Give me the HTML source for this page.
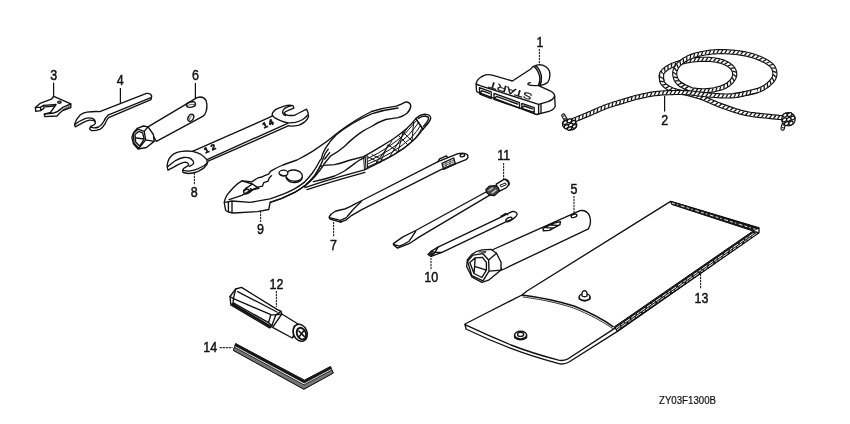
<!DOCTYPE html>
<html><head><meta charset="utf-8"><title>Tools</title>
<style>
html,body{margin:0;padding:0;background:#fff;}
body{width:850px;height:424px;overflow:hidden;}
svg{display:block;}
.l{fill:none;stroke:#111;stroke-width:1.35;stroke-linecap:round;stroke-linejoin:round;}
.f{fill:#fff;stroke:#111;stroke-width:1.35;stroke-linecap:round;stroke-linejoin:round;}
.t{fill:none;stroke:#222;stroke-width:0.7;stroke-linecap:round;stroke-linejoin:round;}
.d{fill:none;stroke:#222;stroke-width:1.1;stroke-dasharray:2.2 .8;}
.s{fill:none;stroke:#111;stroke-width:1.25;}
text{font-family:"Liberation Sans",sans-serif;fill:#111;}
svg{filter:grayscale(1) blur(.3px)}
.n{font-size:12.5px;text-anchor:middle;stroke:#111;stroke-width:0.42;}
</style></head>
<body>
<svg width="850" height="424" viewBox="0 0 850 424">
<rect width="850" height="424" fill="#fff"/>

<!-- LABELS -->
<g id="labels">
<text class="n" transform="translate(540,47.0) scale(1,1.1)">1</text>
<text class="n" transform="translate(664.7,124.8) scale(1,1.1)">2</text>
<text class="n" transform="translate(53.7,79.8) scale(1,1.1)">3</text>
<text class="n" transform="translate(120.3,85.4) scale(1,1.1)">4</text>
<text class="n" transform="translate(574,193.9) scale(1,1.1)">5</text>
<text class="n" transform="translate(195.5,80.4) scale(1,1.1)">6</text>
<text class="n" transform="translate(333.5,249.9) scale(1,1.1)">7</text>
<text class="n" transform="translate(194.3,197.4) scale(1,1.1)">8</text>
<text class="n" transform="translate(260.5,234.4) scale(1,1.1)">9</text>
<text class="n" transform="translate(431.3,282.4) scale(1,1.1)">10</text>
<text class="n" transform="translate(503.8,160.4) scale(1,1.1)">11</text>
<text class="n" transform="translate(276.5,289.0) scale(1,1.1)">12</text>
<text class="n" transform="translate(701.5,302.8) scale(1,1.1)">13</text>
<text class="n" transform="translate(210.2,352.4) scale(1,1.1)">14</text>
<text transform="translate(659,403.6) scale(1,1.06)" style="font-size:10.6px;stroke:#111;stroke-width:0.2" textLength="57" lengthAdjust="spacingAndGlyphs">ZY03F1300B</text>
</g>

<!-- LEADERS -->
<g id="leaders">
<path class="d" d="M539.4,49V64"/>
<path class="s" d="M664.6,96V111.6"/>
<path class="s" d="M53.6,82.6V96"/>
<path class="s" d="M120.4,88V103"/>
<path class="d" d="M574,196V213"/>
<path class="s" d="M195.4,83V98"/>
<path class="d" d="M333.6,222V237"/>
<path class="d" d="M194.4,173V185"/>
<path class="d" d="M260.6,211V222"/>
<path class="d" d="M431,258V270"/>
<path class="d" d="M503.6,163V179"/>
<path class="d" d="M276.4,291V307"/>
<path class="d" d="M700.6,274V289"/>
<path class="d" d="M219.6,347.6H232.4"/>
</g>

<!--O1-->
<!-- 3: clip -->
<g id="o3">
<path class="f" d="M53.800,96.300 L70.800,103.900 V107.600 L62.700,110.500 Q59,113.400 57,116 L44.800,116.600 L44.300,114.200 L50.500,112.400 L56.100,104.500 L43.900,105.300 L43.900,108.400 L40.600,110.600 L35.800,111.400 L35.400,107.600 L40,103.400 L51.400,99.200 Z"/>
<path class="l" d="M35.400,107.600 L40.600,107.200 V110.600 M40.600,107.200 L43.900,105.300 M44.300,114.200 L52.400,113.300 Q58,112 62.700,107.400 L70.800,103.900 M50.500,112.400 L52.400,113.300 M45,106.800 L54.600,106"/>
<ellipse class="l" cx="59.400" cy="102.200" rx="1.700" ry="1.100"/>
<path class="t" d="M63,109.400 L70.400,105.400 M63.400,110 L70.400,106.600"/>
</g>

<!-- 4: small open wrench -->
<g id="o4">
<path class="f" d="M146.500,93.400 Q150.600,93 151.700,96 L151,99.600 L108.600,117.600 Q106.400,120 105,123.900 Q102.600,128 99.800,129.300 Q95,131 91.400,130.600 L89.500,129 L90.600,126.400 Q95,124.600 95.300,123.300 Q95.400,121 94,120.700 Q91.600,120 89.500,120.200 Q86,121 83,122.600 L75.200,126.800 L74.500,124.600 Q76,119 80.400,114.800 Q83,112.800 86.900,112.200 Q93,111.200 99.800,111.600 Z"/>
<path class="l" d="M151,97.600 L108,115.200 Q105.400,117.600 104,121 Q101.600,125.600 98.600,127 Q95,128.400 90.600,127.400 M74.800,124.400 Q80,120.600 85.600,118.400 Q90,117.400 93,118.600 Q95,119.600 95.300,122"/>
</g>

<!-- 6: tube socket -->
<g id="o6">
<path class="f" d="M197.100,97.700 Q203,95.600 206,100.400 Q208.400,107.600 204.800,114.500 L203.200,116.100 L156.400,141.400 L148,126.800 Z"/>
<ellipse class="l" cx="191" cy="104.600" rx="4.600" ry="2.600" transform="rotate(-12 191 104.600)" style="stroke-width:1.4"/>
<path class="t" d="M187,105.600 Q191,103.600 195,104.400"/>
<ellipse class="l" cx="190.800" cy="117.800" rx="2.600" ry="3.800" transform="rotate(28 190.800 117.800)" style="stroke-width:1.4"/>
<path class="t" d="M189.200,119.800 Q189.800,116.400 192.200,115.200"/>
<path class="f" d="M133.400,132.900 L137.300,128.300 L143.400,126 L148,126.800 L153.400,134.500 L154.100,141.400 L146.500,147.500 L138,149 L133.400,143.700 L131.900,137.500 Z"/>
<path class="l" d="M133.400,133.600 L138,129.200 L144.200,131.400 L145.700,139.800 L138.800,148.300 L134,143 Z M144.200,131.400 L148,126.800 M145.700,139.800 L154.100,141.400"/>
<path class="l" d="M135,134.500 L138.800,131.400 L142.600,132.900 L144.200,139 L139.600,146 L135.700,142.100 Z M136.400,138 L144.200,139"/>
</g>

<!-- 8: double open end wrench -->
<g id="o8">
<path class="f" d="M192.500,151.300 L272.200,116.200 Q272,114 272.600,112.900 Q273.600,111 275.500,109.600 Q278.600,107.800 282.100,106.800 Q286,105.600 289.600,105.200 L292.900,105.600 L293.900,108.200 Q290.600,109.400 287.700,110.600 Q285,111.600 284,112.900 Q285,114.600 287.700,115.300 Q291,115.800 294.300,115.300 Q297.600,114 300.900,112 L306.600,109.200 L308,112.500 L308.500,116.700 Q307.400,119.600 304.700,121.900 Q302,124 299.100,125.200 Q295,126.200 290.600,126.100 L288.700,125.700 L208.100,161.200 Q207.600,164.600 204.300,167.600 Q201,170 197.700,171.600 Q193,173.400 188.300,173.500 L183.100,172.500 L182.600,170.200 Q183.400,168.600 184.500,167.800 Q186.600,166.600 188.300,165.500 Q189,164.400 188.300,163.600 Q187,162.200 185.500,162.200 Q183,162.600 180.300,163.600 Q177,165 174.200,166.900 L168,170.200 L167.100,166.400 Q167.400,162 169,158.900 Q171,155.600 174.200,153.700 Q178,151.600 181.700,151.300 Q187,150.600 192.500,151.300 Z"/>
<path class="l" d="M207.600,159.300 L287.700,123.300"/>
<path class="l" d="M192.500,151.300 Q197,152.400 200.600,154.200 Q204,156.400 206.200,158.900 Q207.400,160.600 207.200,162.600 Q206,164.400 204.300,165.500 Q201,167.400 197.700,168.800 Q193,170.600 188.300,171.100 L183,170.400"/>
<path class="l" d="M167.600,166.800 Q172,163 176,160.300 Q180,158.200 183.600,157.500 Q187,157.200 189.200,157.900 Q191.600,159 193,160.800 Q193.800,162.400 193.500,163.600 Q192,165.400 189.200,166.400"/>
<path class="l" d="M272.600,115.300 Q273.400,116.600 274.500,117.600 Q277.600,119.600 281.100,120.900 Q284.400,122.200 287.700,122.800 Q291.600,123 295.300,122.400 Q299,121.400 302.800,119.500 Q305.600,117.600 307.500,115.300"/>
<path class="l" d="M291.600,105.600 Q287,106.600 284.600,108.400 Q282.400,110.400 282.400,112.400 Q283,114.600 285.600,115.600"/>
<text x="0" y="0" transform="translate(205.4,153.6) rotate(-24)" style="font-size:8px;font-weight:bold;stroke:#111;stroke-width:.7" textLength="12">12</text>
<text x="0" y="0" transform="translate(264,128.400) rotate(-24)" style="font-size:8px;font-weight:bold;stroke:#111;stroke-width:.7" textLength="11">14</text>
</g>
<!--/O1-->
<!--O2-->
<!-- 9: pliers -->
<g id="o9">
<!-- lower handle (behind) -->
<path class="f" d="M304.900,186 Q316,177 323.300,165.400 L334.600,164.700 Q342,163 348.700,160.500 L363.600,156.600 Q372,152 380.400,146.900 Q388,142.400 394.600,138 Q401,133.600 407,128.300 Q412,123.600 415.800,118.600 L422.900,129.200 Q419.600,134 415.800,138 Q410,143.600 403.400,148.700 Q396,153.600 389.200,157.500 Q382,161.200 375.100,164.600 L364.500,169.900 L344.500,175.300 Q323,181.200 304.900,187.600 Z"/>
<path class="l" d="M364.300,157.600 Q359,160 355.800,162.600 Q350,167 344.500,171 Q339,174 334.600,176 Q324,179.600 313.400,181.700 M307,189.600 Q324,184 345.400,177.800 L365,172.400"/>
<!-- grip -->
<path class="l" d="M363.600,156.600 L364.500,169.900 M365.200,156.200 L366,169.400 M367,155.400 L367.600,168.600" style="stroke-width:1"/>
<path class="t" style="stroke-width:1;stroke:#111" d="M367.600,158.600 Q390,148 405,133.600 Q411,127 416.400,120.600 M367.800,161.400 Q392,150.600 408,135.600 Q414,129 418.600,122.600 M368,164 Q394,153.600 411,138 Q417,131.400 420.600,125.600 M368.200,166.600 Q396,156 413.600,140 Q419,134 422,128 M367.600,156.600 L380,163 L388,144.600 L398,152 L403,132 L412,141 L413.600,122 M375,164.600 L392,141 M389.200,157.500 L407,128.300 M372,154.600 L384,160.600 M399,136 L408,145"/>
<path class="l" d="M415.800,118.600 L422.900,129.200"/>
<path class="l" d="M415.800,118.600 Q420,114.600 424.600,114.200 Q430.400,114.600 430.800,118 Q430,122 422.900,129.200 M418.400,118.600 Q421.600,116 425,116 Q428.600,116.400 428.600,118.600 Q427.600,122 423.400,126.400"/>
<!-- head + upper handle -->
<path class="f" d="M224.200,202.400 Q225.600,196 229.100,192.500 Q235,185 241.900,180.900 L245.400,181.200 L251.800,181.900 L256,179 L258.800,177.700 L262,177 L264.600,175.600 L268.700,174.100 L270.400,171.400 L273,169.900 Q278,167 282.900,165 Q290,162.400 297,160 Q305,156 312.500,151.400 Q327,142 340,131 Q354,120.400 371.500,111.500 Q385,107.600 396.300,106.200 Q402,104 405.200,102.100 Q409.600,101.600 410.800,105.600 Q410.600,110 407,113.300 Q403,116.600 398,117.700 Q391,119 385.700,119.500 Q378,122 371.500,126.500 Q364,130 359.200,133.600 Q350,140.600 345,146 Q338,152 330.400,156.200 L324,164 Q322,168 320.600,165.300 Q318,170.600 314.800,175.300 Q310.600,180.600 305.300,185.300 Q300,189.400 294.700,192.400 Q288,195.600 281.800,198.300 L270.200,202.400 L268.700,209.500 L257.400,211.600 L233.400,213 Q227,212.400 225.600,210.200 Z"/>
<!-- S double line -->
<path class="l" d="M224.900,202.400 L232,201 L250.400,202.400 L270,198.900 Q276,197 281.800,194.700 Q288,192.400 293.600,189.400 Q299.600,186 304.200,182.400 Q308.600,178 312.400,173 Q316,168 318.300,163.500 Q320,160 321.200,159 Q322.600,153 325.400,148.400 Q330,141 336,135 Q350,123 371.500,113.800 Q385,109.600 398,108"/>
<path class="l" d="M270.200,202.400 L281.800,198.300 Q288,195.600 294.700,192.400 Q300,189.400 305.300,185.300 Q310.600,180.600 314.800,175.300 Q318,170.600 320.600,165.300 Q322.600,161 323.300,158 Q325,153 328.200,149.100"/>
<path class="l" d="M329.700,152.700 L324.700,159"/>
<path class="l" d="M228.400,202 V211.400 M232,201.600 V212.600"/>
<!-- jaws -->
<path class="l" d="M229.100,199.600 L241.900,195.400 L250,190.600 L258.800,186.900 L262.400,186.200 L263.800,182.600 L268,181.200 L269.400,177.700 L271.600,175.600"/>
<path class="l" d="M241.900,180.900 L252.400,184 L258.800,188.300 L250.400,190.400 M252.400,184 L246,188.400"/>
<ellipse class="l" cx="246.600" cy="191.600" rx="3" ry="2.200" transform="rotate(-20 246.6 191.6)" style="stroke-width:1.4"/>
<path class="l" d="M243.600,190.600 L247,187.600 M249.600,192.600 L253,189.600 M250.400,188.600 Q252.600,190 253,189.600"/>
<!-- pivot -->
<ellipse class="l" cx="294.100" cy="175.600" rx="8.300" ry="5.600" transform="rotate(6 294.1 175.6)"/>
<path class="l" d="M286,177.400 Q288,182.600 295,182.600 Q301.400,182 302.200,177.600"/>
<ellipse class="f" cx="283.500" cy="173" rx="4.400" ry="2.900"/>
<path class="l" d="M280,174.400 Q283,176.600 286.600,175.400"/>
</g>

<!-- 7 -->
<g id="o7">
<path class="f" d="M458,153.600 Q465,152.400 467.400,154.800 Q469,157.600 466,159.600 L441,169.600 L361.300,209.900 L351.400,215.600 L346.400,219.800 L340.600,222.200 L330,219 L329,217.200 Q330.600,213.600 334.900,211.500 Q340,209.600 344.800,209 Q350,207 354.700,204.100 L362.900,200 L438,161.600 Z"/>
<path class="l" d="M329.600,217.600 L340.600,220.400 L346.400,217.600 M340.600,220.400 V222.200 M361.300,201.600 Q354,208 347.200,216.500"/>
<path class="l" d="M438,161.600 L439.600,158.800 L446.400,155.800 L447.600,157.400 M442,163.400 L453.600,158 L455.400,164 L443.600,169.400 Z"/>
<path class="t" d="M442.800,165 L454.200,159.800 M443.200,166.600 L454.600,161.400 M443.400,168.200 L455,163 M446,162 V168 M450,160 V166"/>
<ellipse class="l" cx="462.400" cy="155.200" rx="2.300" ry="1.500" transform="rotate(-15 462.4 155.2)"/>
</g>

<!-- 11 -->
<g id="o11">
<path class="f" d="M415.700,230.500 L486,192 L491,194.400 L419,237.100 L409.100,243.700 L397.600,248.100 L393.600,245 L393.400,243.600 L402.500,237.100 Z"/>
<path class="l" d="M415.700,231.300 Q412,237 409.100,241.200 Q404,244.400 399.200,246.200 L393.600,244.400"/>
<path class="f" d="M496.200,184.200 L504.400,179.200 Q508.600,179.800 509.200,183.200 Q508.800,186 506.200,187.800 L499,191.400 Z"/>
<path class="l" d="M505.600,179.600 Q509,181 508.800,184.600" style="stroke-width:1.8"/>
<path class="l" d="M500.400,185 L505.400,183 L506.400,184.600 L501.400,186.800 Z" style="stroke-width:1"/>
<path d="M485.900,189.400 L489.600,186.100 L495,185.600 L498.400,187.800 L499.400,191 L494.500,195.600 L489.600,195 L486.600,192.600 Z" fill="#4a4a4a" stroke="#111" stroke-width="1.3" stroke-linejoin="round"/>
<path d="M489,190.400 L492.600,188 M492,193 L496,190" stroke="#ddd" stroke-width="1.1" fill="none" stroke-linecap="round"/>
</g>

<!-- 10 -->
<g id="o10">
<path class="f" d="M438,247.200 L500.500,217.400 L512.500,211.300 Q516.600,211.400 517.200,214.400 Q516.400,217 513.200,218.800 L507.400,221.200 L442,252.400 L431,256.400 L428,254.400 L431,251.400 Z"/>
<path class="l" d="M501,216.400 L505.600,213.600 L507.600,214.600" style="stroke-width:1.6"/>
<ellipse class="l" cx="509" cy="219.500" rx="3.300" ry="1.900" transform="rotate(-25 509 219.500)" style="stroke-width:1.4"/>
<path class="l" d="M431,251.400 L435,252.400 L442,252.400 M435,252.400 L431,256.400 M438,247.200 L435,252.400"/>
<ellipse cx="431.200" cy="253.800" rx="2.400" ry="1.900" fill="#222"/>
</g>

<!-- 5 -->
<g id="o5">
<path class="f" d="M580,210.600 Q586.400,209.600 589.400,215.400 Q592,222.400 588.400,228.800 L502,270 L492,250 Z"/>
<ellipse class="l" cx="574" cy="215.800" rx="3" ry="1.600" transform="rotate(-15 574 215.800)" style="stroke-width:1.4"/>
<path class="l" d="M543,228.400 L554,223 L560.400,221.600 L560,224.600 L549.400,230.400 L543.400,230.800 Z M546,227.600 L553,228 M550.400,225 L557.600,225.400" style="stroke-width:1.4"/>
<path class="f" d="M467.300,260 L471.800,254.400 Q476,251 481.900,249.900 L490.900,249.300 L496.500,253.300 L501,262.300 L501,270.100 L488.600,280.200 L481.900,282.400 L471.800,276.800 L466.700,266.700 Z"/>
<path class="l" d="M467.600,261.400 L472.900,255.100 L483,253.700 L488.600,260 L489,271.200 L483,280.900 L471.800,275.700 Z M488.600,260 L496.500,253.300 M489,271.200 L501,270.100"/>
<path class="l" d="M469.800,262.600 L475.200,257.800 L482.400,257.300 L486.400,262.300 L486.400,270.100 L481.900,277.500 L474,273.500 Z M474,273.500 L474.600,266.400 L486.400,270.100 M474.600,266.400 L475.200,257.800"/>
<path class="t" d="M479,252 L486,251.400 M481,253 L485.600,252.600" style="stroke-width:.9"/>
</g>
<!--/O2-->
<!--O3-->
<!-- 13 pouch -->
<g id="o13">
<path class="f" d="M670.6,201.4 L759,228 L759,232.6 L617.4,331.4 L569,362 Q563.6,365 558,363.4 Q532,356.4 511,348.4 Q488,339.6 466,329 L465,324 L522,295 L527,291 Z"/>
<path class="l" d="M522,295 Q550,298.6 574,306 Q598,315.6 613,326.6" style="stroke-width:1.5"/>
<path class="t" d="M523,297 Q550,300.4 573,307.8 Q597,317.4 613,328.8" style="stroke-width:1;stroke-dasharray:3 1"/>
<path class="l" d="M465,324.6 Q488,335.4 511,345 Q532,353.2 558.6,360.2 Q563,361.2 567.4,359.2 L614.6,328.4"/>
<path d="M614,327 L753,231 L759,232.6 L617.4,331.4 Z" fill="#1a1a1a" stroke="#111" stroke-width="1" stroke-linejoin="round"/>
<path d="M616,328.4 L755.6,232" fill="none" stroke="#fff" stroke-width="1" stroke-dasharray="5 1.6 3 1.2 6 2"/>
<path d="M617,329.8 L757.4,232.8" fill="none" stroke="#fff" stroke-width=".9" stroke-dasharray="4 1.4 6 2.4 2.6 1.2"/>
<path d="M670.6,201.4 L759,228 L753,231 L671.6,204.4 Z" fill="#1a1a1a" stroke="#111" stroke-width="1" stroke-linejoin="round"/>
<path d="M672,203 L755.6,229.4" fill="none" stroke="#fff" stroke-width=".9" stroke-dasharray="3 2 1.6 2.6 4 2"/>
<ellipse class="l" cx="584.6" cy="297" rx="5.4" ry="3.4"/>
<path class="f" d="M582,296 Q581.4,291 584.6,290.6 Q587.6,291 587,296 Q584.6,297.4 582,296 Z"/>
<path class="l" d="M579.2,297 V299 Q584.6,303 590,299 V297"/>
<ellipse class="l" cx="520.6" cy="335" rx="6" ry="3.8"/>
<ellipse class="l" cx="520.6" cy="334.4" rx="3" ry="2"/>
<path class="l" d="M514.6,335 V337.6 Q520.6,342 526.6,337.6 V335"/>
</g>
<!-- 1 start handle -->
<g id="o1">
<path class="f" d="M476.400,82.600 Q478,77.600 485.600,74.900 Q489,74.200 494,75.600 L512.400,81 L530.800,69 Q533,65 540,64.6 Q547,65.4 549.4,71 Q551,78 547.6,82.6 Q544,85.6 538,85.4 L549,90.4 Q554.4,92.6 554.6,96 L555.2,106.4 Q554,110 548,111.6 L536.500,114.500 L477,91.800 Q475.800,90 476.400,82.600 Z"/>
<path class="l" d="M476,84 Q477.6,84.6 480,85.6 L538.6,104.4 L548,101.6 Q553.6,99.6 554.6,96 M538.6,104.400 V114 M541,104 V113"/>
<path class="l" d="M538,85.4 Q532,86 528,84.6 Q527.4,83 530.4,82.6 M534,66.6 Q538.4,70 539.8,77 Q540.2,82 538.4,85.4 M535.6,65.6 Q540,69 541.4,76 Q541.8,82 540,85.6"/>
<path class="l" d="M479.400,87.600 L491.200,91.800 L491.200,98.600 L479.800,94 Z M481.800,90.600 L489.400,93.400 M481.800,90.600 L479.800,94"/>
<path class="l" d="M494,93.400 L519.500,102.600 L519.500,108.200 L494,99.400 Z M496.400,96.400 L517.600,104 M496.400,96.400 L494,99.400"/>
<path class="l" d="M521.800,103.400 L534.200,107.600 L534.200,112.400 L521.800,108.400 Z M524,106 L532.400,108.800 M524,106 L521.800,108.400"/>
<text transform="translate(532.9,94.2) rotate(196.7)" style="font-size:9.2px;stroke:#111;stroke-width:.25" textLength="45" lengthAdjust="spacingAndGlyphs">START</text>
</g>
<!-- 2 rope -->
<g id="o2">
<path d="M678.4,82.8 L679.7,83.6 L681.0,84.4 L682.2,85.2 L683.5,86.0 L684.7,86.8 L686.0,87.6 L687.3,88.3 L688.7,88.9 L690.1,89.3 L691.6,89.7 L693.1,90.0 L694.6,90.2 L696.0,90.4 L697.5,90.6 L699.0,90.7 L700.5,90.7 L702.0,90.8 L703.5,90.8 L705.0,90.8 L706.5,90.7 L708.0,90.6 L709.5,90.4 L711.0,90.3 L712.5,90.0 L714.0,89.8 L715.4,89.5 L716.9,89.1 L718.3,88.7 L719.8,88.3 L721.2,87.9 L722.6,87.3 L724.0,86.8 L725.4,86.1 L726.7,85.4 L727.9,84.6 L729.1,83.7 L730.2,82.7 L731.3,81.6 L732.3,80.5 L733.1,79.2 L733.9,77.9 L734.4,76.5 L734.7,75.1 L734.7,73.6 L734.5,72.1 L734.0,70.7 L733.3,69.3 L732.5,68.1 L731.5,67.0 L730.4,66.0 L729.2,65.1 L727.9,64.3 L726.6,63.5 L725.2,62.9 L723.9,62.3 L722.5,61.8 L721.0,61.3 L719.6,60.9 L718.1,60.6 L716.7,60.3 L715.2,60.0 L713.7,59.8 L712.2,59.7 L710.7,59.5 L709.2,59.4 L707.7,59.3 L706.2,59.3 L704.7,59.3 L703.2,59.3 L701.7,59.3 L700.2,59.4 L698.7,59.5 L697.2,59.6 L695.7,59.7 L694.2,59.8 L692.7,60.0 L691.3,60.2 L689.8,60.4 L688.3,60.7 L686.8,61.0 L685.4,61.3 L683.9,61.6 L682.4,62.0 L681.0,62.3 L679.5,62.7 L678.1,63.2 L676.7,63.6 L675.3,64.1 L673.9,64.7 L672.5,65.2 L671.1,65.9 L669.8,66.5 L668.5,67.3 L667.2,68.0 L665.9,68.9 L664.8,69.8 L663.7,70.8 L662.7,72.0 L661.8,73.2 L661.3,74.6 L661.1,76.1 L661.3,77.6 L661.6,79.0 L662.0,80.5 L662.4,81.9" fill="none" stroke="#111" stroke-width="5.2" stroke-linecap="butt" stroke-linejoin="round"/><path d="M678.4,82.8 L679.7,83.6 L681.0,84.4 L682.2,85.2 L683.5,86.0 L684.7,86.8 L686.0,87.6 L687.3,88.3 L688.7,88.9 L690.1,89.3 L691.6,89.7 L693.1,90.0 L694.6,90.2 L696.0,90.4 L697.5,90.6 L699.0,90.7 L700.5,90.7 L702.0,90.8 L703.5,90.8 L705.0,90.8 L706.5,90.7 L708.0,90.6 L709.5,90.4 L711.0,90.3 L712.5,90.0 L714.0,89.8 L715.4,89.5 L716.9,89.1 L718.3,88.7 L719.8,88.3 L721.2,87.9 L722.6,87.3 L724.0,86.8 L725.4,86.1 L726.7,85.4 L727.9,84.6 L729.1,83.7 L730.2,82.7 L731.3,81.6 L732.3,80.5 L733.1,79.2 L733.9,77.9 L734.4,76.5 L734.7,75.1 L734.7,73.6 L734.5,72.1 L734.0,70.7 L733.3,69.3 L732.5,68.1 L731.5,67.0 L730.4,66.0 L729.2,65.1 L727.9,64.3 L726.6,63.5 L725.2,62.9 L723.9,62.3 L722.5,61.8 L721.0,61.3 L719.6,60.9 L718.1,60.6 L716.7,60.3 L715.2,60.0 L713.7,59.8 L712.2,59.7 L710.7,59.5 L709.2,59.4 L707.7,59.3 L706.2,59.3 L704.7,59.3 L703.2,59.3 L701.7,59.3 L700.2,59.4 L698.7,59.5 L697.2,59.6 L695.7,59.7 L694.2,59.8 L692.7,60.0 L691.3,60.2 L689.8,60.4 L688.3,60.7 L686.8,61.0 L685.4,61.3 L683.9,61.6 L682.4,62.0 L681.0,62.3 L679.5,62.7 L678.1,63.2 L676.7,63.6 L675.3,64.1 L673.9,64.7 L672.5,65.2 L671.1,65.9 L669.8,66.5 L668.5,67.3 L667.2,68.0 L665.9,68.9 L664.8,69.8 L663.7,70.8 L662.7,72.0 L661.8,73.2 L661.3,74.6 L661.1,76.1 L661.3,77.6 L661.6,79.0 L662.0,80.5 L662.4,81.9" fill="none" stroke="#fff" stroke-width="2.9" stroke-linecap="butt" stroke-linejoin="round"/><path d="M680.1,85.7L683.5,84.1M683.5,88.0L686.8,86.2M687.2,90.0L690.2,87.7M691.3,91.3L693.9,88.5M695.4,92.0L697.7,89.0M699.5,92.3L701.6,89.2M703.6,92.4L705.5,89.1M707.7,92.2L709.4,88.9M711.8,91.8L713.2,88.3M715.8,91.0L717.0,87.5M719.8,90.0L720.7,86.3M723.8,88.6L724.2,84.9M727.6,86.7L727.4,83.0M731.0,84.2L730.2,80.5M734.0,80.9L732.3,77.6M736.1,76.8L733.2,74.3M736.1,72.1L732.5,71.1M734.4,67.9L730.6,68.3M731.3,64.7L727.8,66.0M727.8,62.3L724.5,64.3M723.9,60.6L721.0,63.0M720.0,59.4L717.3,62.0M715.9,58.5L713.5,61.4M711.8,58.0L709.6,61.0M707.8,57.7L705.7,60.9M703.7,57.7L701.7,60.9M699.6,57.8L697.8,61.1M695.6,58.1L693.9,61.5M691.5,58.5L690.0,62.0M687.5,59.2L686.2,62.7M683.5,60.0L682.3,63.6M679.6,61.1L678.6,64.7M675.6,62.3L674.9,66.0M671.8,63.8L671.3,67.5M668.0,65.6L668.0,69.4M664.5,68.0L665.1,71.7M661.1,71.1L663.0,74.4M659.6,75.6L662.7,77.6" fill="none" stroke="#111" stroke-width="1.25"/>
<path d="M733.5,95.7 L735.0,95.4 L736.4,95.1 L737.9,94.8 L739.4,94.6 L740.9,94.3 L742.3,94.1 L743.8,93.8 L745.3,93.5 L746.8,93.3 L748.3,93.0 L749.7,92.7 L751.2,92.4 L752.7,92.1 L754.1,91.7 L755.6,91.3 L757.0,90.8 L758.4,90.3 L759.8,89.8 L761.1,89.1 L762.5,88.5 L763.8,87.7 L765.1,86.9 L766.3,86.1 L767.5,85.2 L768.7,84.2 L769.8,83.2 L770.9,82.2 L771.9,81.1 L772.8,79.9 L773.6,78.7 L774.3,77.3 L774.7,75.9 L774.9,74.4 L774.9,72.9 L774.7,71.4 L774.3,69.9 L773.8,68.6 L773.1,67.2 L772.2,66.0 L771.1,64.9 L770.0,64.0 L768.8,63.1 L767.5,62.3 L766.2,61.5 L764.9,60.8 L763.6,60.1 L762.2,59.5 L760.9,58.8 L759.5,58.2 L758.1,57.7 L756.7,57.1 L755.3,56.6 L753.9,56.1 L752.4,55.7 L751.0,55.3 L749.6,54.9 L748.1,54.5 L746.6,54.2 L745.2,53.9 L743.7,53.6 L742.2,53.4 L740.7,53.2 L739.2,52.9 L737.8,52.7 L736.3,52.5 L734.8,52.4 L733.3,52.2 L731.8,52.1 L730.3,52.0 L728.8,51.9 L727.3,51.8 L725.8,51.7 L724.3,51.7 L722.8,51.6 L721.3,51.6 L719.8,51.6 L718.3,51.7 L716.8,51.7 L715.3,51.8 L713.8,51.9 L712.3,52.0 L710.8,52.2 L709.3,52.4 L707.8,52.6 L706.4,52.8 L704.9,53.0 L703.4,53.3 L701.9,53.5 L700.5,53.8 L699.0,54.2 L697.5,54.5 L696.1,54.9 L694.6,55.3 L693.2,55.8 L691.8,56.3 L690.4,56.8 L689.0,57.4 L687.7,58.1 L686.4,58.8 L685.1,59.5 L683.8,60.3 L682.6,61.2 L681.4,62.1 L680.2,63.1 L679.1,64.1 L678.1,65.2 L677.2,66.4 L676.4,67.7 L675.7,69.0 L675.2,70.4 L674.8,71.9 L674.7,73.4 L674.8,74.9 L675.1,76.3 L675.5,77.8 L676.0,79.2 L676.7,80.5 L677.5,81.7 L678.5,82.9 L679.6,83.9 L680.8,84.8 L682.2,85.5 L683.5,86.2 L684.9,86.8 L686.2,87.4 L687.6,88.0 L689.0,88.6 L690.3,89.3" fill="none" stroke="#111" stroke-width="5.2" stroke-linecap="butt" stroke-linejoin="round"/><path d="M733.5,95.7 L735.0,95.4 L736.4,95.1 L737.9,94.8 L739.4,94.6 L740.9,94.3 L742.3,94.1 L743.8,93.8 L745.3,93.5 L746.8,93.3 L748.3,93.0 L749.7,92.7 L751.2,92.4 L752.7,92.1 L754.1,91.7 L755.6,91.3 L757.0,90.8 L758.4,90.3 L759.8,89.8 L761.1,89.1 L762.5,88.5 L763.8,87.7 L765.1,86.9 L766.3,86.1 L767.5,85.2 L768.7,84.2 L769.8,83.2 L770.9,82.2 L771.9,81.1 L772.8,79.9 L773.6,78.7 L774.3,77.3 L774.7,75.9 L774.9,74.4 L774.9,72.9 L774.7,71.4 L774.3,69.9 L773.8,68.6 L773.1,67.2 L772.2,66.0 L771.1,64.9 L770.0,64.0 L768.8,63.1 L767.5,62.3 L766.2,61.5 L764.9,60.8 L763.6,60.1 L762.2,59.5 L760.9,58.8 L759.5,58.2 L758.1,57.7 L756.7,57.1 L755.3,56.6 L753.9,56.1 L752.4,55.7 L751.0,55.3 L749.6,54.9 L748.1,54.5 L746.6,54.2 L745.2,53.9 L743.7,53.6 L742.2,53.4 L740.7,53.2 L739.2,52.9 L737.8,52.7 L736.3,52.5 L734.8,52.4 L733.3,52.2 L731.8,52.1 L730.3,52.0 L728.8,51.9 L727.3,51.8 L725.8,51.7 L724.3,51.7 L722.8,51.6 L721.3,51.6 L719.8,51.6 L718.3,51.7 L716.8,51.7 L715.3,51.8 L713.8,51.9 L712.3,52.0 L710.8,52.2 L709.3,52.4 L707.8,52.6 L706.4,52.8 L704.9,53.0 L703.4,53.3 L701.9,53.5 L700.5,53.8 L699.0,54.2 L697.5,54.5 L696.1,54.9 L694.6,55.3 L693.2,55.8 L691.8,56.3 L690.4,56.8 L689.0,57.4 L687.7,58.1 L686.4,58.8 L685.1,59.5 L683.8,60.3 L682.6,61.2 L681.4,62.1 L680.2,63.1 L679.1,64.1 L678.1,65.2 L677.2,66.4 L676.4,67.7 L675.7,69.0 L675.2,70.4 L674.8,71.9 L674.7,73.4 L674.8,74.9 L675.1,76.3 L675.5,77.8 L676.0,79.2 L676.7,80.5 L677.5,81.7 L678.5,82.9 L679.6,83.9 L680.8,84.8 L682.2,85.5 L683.5,86.2 L684.9,86.8 L686.2,87.4 L687.6,88.0 L689.0,88.6 L690.3,89.3" fill="none" stroke="#fff" stroke-width="2.9" stroke-linecap="butt" stroke-linejoin="round"/><path d="M736.7,96.7L738.1,93.2M740.7,96.0L742.1,92.5M744.6,95.3L746.0,91.8M748.6,94.6L749.9,91.0M752.6,93.7L753.7,90.2M756.6,92.7L757.4,89.0M760.5,91.2L760.9,87.5M764.2,89.3L764.2,85.6M767.7,87.1L767.3,83.3M770.9,84.4L770.1,80.7M773.9,81.2L772.3,77.8M776.0,77.2L773.3,74.5M776.5,72.6L773.1,71.1M775.4,68.2L771.7,68.0M773.0,64.5L769.3,65.4M769.7,61.7L766.2,63.3M766.1,59.6L762.9,61.5M762.4,57.8L759.3,59.9M758.7,56.2L755.7,58.5M754.8,54.8L752.0,57.2M750.9,53.6L748.2,56.2M746.9,52.6L744.4,55.4M743.0,51.9L740.5,54.7M739.0,51.3L736.6,54.2M734.9,50.8L732.6,53.8M730.9,50.4L728.7,53.5M726.9,50.1L724.7,53.3M722.8,50.0L720.8,53.2M718.7,50.0L716.9,53.3M714.7,50.2L712.9,53.6M710.6,50.6L709.0,54.0M706.6,51.1L705.1,54.6M702.6,51.8L701.3,55.3M698.6,52.6L697.4,56.2M694.6,53.6L693.7,57.3M690.7,55.0L690.1,58.7M686.9,56.7L686.7,60.4M683.3,58.7L683.5,62.5M679.9,61.2L680.6,64.9M676.8,64.3L678.2,67.8M674.4,68.0L676.7,71.0M673.1,72.3L676.3,74.4M673.5,76.8L677.1,77.8M675.1,80.9L678.9,80.9M677.8,84.5L681.4,83.3M681.4,86.9L684.7,85.0M685.1,88.6L688.3,86.6" fill="none" stroke="#111" stroke-width="1.25"/>
<path d="M661.6,73.6 L661.6,75.1 L661.6,76.6 L661.5,78.1 L661.5,79.6 L661.8,81.1 L662.3,82.5 L663.2,83.7 L664.2,84.8 L665.3,85.8 L666.5,86.7 L667.8,87.5 L669.1,88.2 L670.4,88.9 L671.8,89.6 L673.2,90.1 L674.6,90.6 L676.0,91.0 L677.5,91.4 L678.9,91.7 L680.4,92.0 L681.9,92.3 L683.4,92.5 L684.8,92.8 L686.3,93.2 L687.7,93.5 L689.2,93.9 L690.6,94.3 L692.1,94.7 L693.5,95.1 L695.0,95.5 L696.4,95.9 L697.9,96.3 L699.3,96.8 L700.7,97.2 L702.1,97.7 L703.6,98.2 L705.0,98.8 L706.3,99.4 L707.7,100.0 L709.1,100.6 L710.5,101.2 L711.8,101.8 L713.2,102.4 L714.6,103.0 L716.0,103.6 L717.3,104.2 L718.7,104.7 L720.1,105.3 L721.5,105.8 L722.9,106.3 L724.4,106.8 L725.8,107.3 L727.2,107.8 L728.6,108.3 L730.0,108.8 L731.4,109.3 L732.9,109.8 L734.3,110.2 L735.7,110.7 L737.1,111.1 L738.6,111.5 L740.0,112.0 L741.5,112.4 L742.9,112.7 L744.4,113.1 L745.8,113.4 L747.3,113.7 L748.8,114.0 L750.3,114.3 L751.7,114.5 L753.2,114.7 L754.7,114.9 L756.2,115.1 L757.7,115.2 L759.2,115.4 L760.7,115.6 L762.2,115.7 L763.7,115.8 L765.2,116.0 L766.7,116.1 L768.1,116.3 L769.6,116.4 L771.1,116.6 L772.6,116.8 L774.1,116.9 L775.6,117.1 L777.1,117.2 L778.6,117.4 L780.1,117.5 L781.6,117.6 L783.1,117.8 L784.6,117.9" fill="none" stroke="#111" stroke-width="5.2" stroke-linecap="butt" stroke-linejoin="round"/><path d="M661.6,73.6 L661.6,75.1 L661.6,76.6 L661.5,78.1 L661.5,79.6 L661.8,81.1 L662.3,82.5 L663.2,83.7 L664.2,84.8 L665.3,85.8 L666.5,86.7 L667.8,87.5 L669.1,88.2 L670.4,88.9 L671.8,89.6 L673.2,90.1 L674.6,90.6 L676.0,91.0 L677.5,91.4 L678.9,91.7 L680.4,92.0 L681.9,92.3 L683.4,92.5 L684.8,92.8 L686.3,93.2 L687.7,93.5 L689.2,93.9 L690.6,94.3 L692.1,94.7 L693.5,95.1 L695.0,95.5 L696.4,95.9 L697.9,96.3 L699.3,96.8 L700.7,97.2 L702.1,97.7 L703.6,98.2 L705.0,98.8 L706.3,99.4 L707.7,100.0 L709.1,100.6 L710.5,101.2 L711.8,101.8 L713.2,102.4 L714.6,103.0 L716.0,103.6 L717.3,104.2 L718.7,104.7 L720.1,105.3 L721.5,105.8 L722.9,106.3 L724.4,106.8 L725.8,107.3 L727.2,107.8 L728.6,108.3 L730.0,108.8 L731.4,109.3 L732.9,109.8 L734.3,110.2 L735.7,110.7 L737.1,111.1 L738.6,111.5 L740.0,112.0 L741.5,112.4 L742.9,112.7 L744.4,113.1 L745.8,113.4 L747.3,113.7 L748.8,114.0 L750.3,114.3 L751.7,114.5 L753.2,114.7 L754.7,114.9 L756.2,115.1 L757.7,115.2 L759.2,115.4 L760.7,115.6 L762.2,115.7 L763.7,115.8 L765.2,116.0 L766.7,116.1 L768.1,116.3 L769.6,116.4 L771.1,116.6 L772.6,116.8 L774.1,116.9 L775.6,117.1 L777.1,117.2 L778.6,117.4 L780.1,117.5 L781.6,117.6 L783.1,117.8 L784.6,117.9" fill="none" stroke="#fff" stroke-width="2.9" stroke-linecap="butt" stroke-linejoin="round"/><path d="M659.9,76.7L663.2,78.5M660.0,81.2L663.7,81.9M662.3,85.2L666.0,84.4M665.6,88.0L669.1,86.4M669.3,90.2L672.4,88.1M673.1,91.8L676.0,89.4M677.1,92.9L679.8,90.2M681.1,93.7L683.7,91.0M685.0,94.5L687.6,91.8M688.8,95.5L691.5,92.9M692.6,96.5L695.4,93.9M696.4,97.6L699.3,95.1M700.2,98.7L703.1,96.4M703.9,100.1L706.9,97.9M707.5,101.6L710.7,99.5M711.2,103.3L714.3,101.1M714.9,104.9L717.9,102.7M718.6,106.4L721.6,104.1M722.4,107.8L725.4,105.5M726.2,109.2L729.1,106.8M730.0,110.5L732.9,108.1M733.8,111.7L736.7,109.3M737.7,112.9L740.5,110.4M741.6,114.0L744.3,111.4M745.5,115.0L748.1,112.3M749.5,115.8L752.0,112.9M753.5,116.4L755.9,113.4M757.5,116.8L759.9,113.9M761.5,117.2L763.8,114.3M765.5,117.6L767.8,114.6M769.5,118.0L771.8,115.1M773.5,118.5L775.8,115.5M777.4,118.9L779.7,115.9" fill="none" stroke="#111" stroke-width="1.25"/>
<path d="M568.0,122.6 L569.4,122.0 L570.8,121.5 L572.2,120.9 L573.5,120.3 L574.9,119.7 L576.3,119.2 L577.7,118.6 L579.1,118.0 L580.5,117.5 L581.9,116.9 L583.3,116.3 L584.6,115.7 L586.0,115.2 L587.4,114.6 L588.8,114.0 L590.2,113.4 L591.6,112.8 L592.9,112.2 L594.3,111.6 L595.7,111.0 L597.1,110.4 L598.4,109.8 L599.8,109.2 L601.2,108.6 L602.6,108.1 L603.9,107.5 L605.3,106.9 L606.8,106.4 L608.2,105.9 L609.6,105.4 L611.0,104.9 L612.4,104.5 L613.9,104.0 L615.3,103.6 L616.7,103.2 L618.2,102.7 L619.6,102.3 L621.0,101.9 L622.5,101.5 L623.9,101.0 L625.4,100.6 L626.8,100.1 L628.2,99.7 L629.7,99.3 L631.1,98.8 L632.5,98.4 L634.0,98.0 L635.4,97.6 L636.9,97.2 L638.3,96.9 L639.8,96.6 L641.3,96.2 L642.7,95.9 L644.2,95.6 L645.7,95.3 L647.1,95.0 L648.6,94.7 L650.1,94.4 L651.6,94.2 L653.0,93.9 L654.5,93.7 L656.0,93.6 L657.5,93.4 L659.0,93.3 L660.5,93.1 L662.0,93.0 L663.5,92.9 L665.0,92.9 L666.5,92.8 L668.0,92.7 L669.5,92.7 L671.0,92.6 L672.5,92.6 L674.0,92.5 L675.5,92.5 L677.0,92.5 L678.5,92.5 L680.0,92.5 L681.5,92.5 L683.0,92.6 L684.5,92.6 L686.0,92.7 L687.5,92.8 L689.0,92.9 L690.5,93.0 L692.0,93.1 L693.5,93.3 L694.9,93.5 L696.4,93.7 L697.9,93.8 L699.4,94.0 L700.9,94.2 L702.4,94.4 L703.9,94.5 L705.4,94.7 L706.9,94.8 L708.4,95.0 L709.9,95.1 L711.4,95.2 L712.8,95.3 L714.3,95.4 L715.8,95.5 L717.3,95.6 L718.8,95.7 L720.3,95.8 L721.8,95.9 L723.3,95.9 L724.8,96.0 L726.3,96.0 L727.8,96.0 L729.3,95.9 L730.8,95.9 L732.3,95.8 L733.8,95.7 L735.3,95.5 L736.8,95.3 L738.3,95.1 L739.7,94.8 L741.2,94.5 L742.7,94.2 L744.1,93.8 L745.6,93.5 L747.1,93.1 L748.5,92.8 L750.0,92.4 L751.4,92.1 L752.9,91.7 L754.3,91.3 L755.8,91.0 L757.3,90.7" fill="none" stroke="#111" stroke-width="5.2" stroke-linecap="butt" stroke-linejoin="round"/><path d="M568.0,122.6 L569.4,122.0 L570.8,121.5 L572.2,120.9 L573.5,120.3 L574.9,119.7 L576.3,119.2 L577.7,118.6 L579.1,118.0 L580.5,117.5 L581.9,116.9 L583.3,116.3 L584.6,115.7 L586.0,115.2 L587.4,114.6 L588.8,114.0 L590.2,113.4 L591.6,112.8 L592.9,112.2 L594.3,111.6 L595.7,111.0 L597.1,110.4 L598.4,109.8 L599.8,109.2 L601.2,108.6 L602.6,108.1 L603.9,107.5 L605.3,106.9 L606.8,106.4 L608.2,105.9 L609.6,105.4 L611.0,104.9 L612.4,104.5 L613.9,104.0 L615.3,103.6 L616.7,103.2 L618.2,102.7 L619.6,102.3 L621.0,101.9 L622.5,101.5 L623.9,101.0 L625.4,100.6 L626.8,100.1 L628.2,99.7 L629.7,99.3 L631.1,98.8 L632.5,98.4 L634.0,98.0 L635.4,97.6 L636.9,97.2 L638.3,96.9 L639.8,96.6 L641.3,96.2 L642.7,95.9 L644.2,95.6 L645.7,95.3 L647.1,95.0 L648.6,94.7 L650.1,94.4 L651.6,94.2 L653.0,93.9 L654.5,93.7 L656.0,93.6 L657.5,93.4 L659.0,93.3 L660.5,93.1 L662.0,93.0 L663.5,92.9 L665.0,92.9 L666.5,92.8 L668.0,92.7 L669.5,92.7 L671.0,92.6 L672.5,92.6 L674.0,92.5 L675.5,92.5 L677.0,92.5 L678.5,92.5 L680.0,92.5 L681.5,92.5 L683.0,92.6 L684.5,92.6 L686.0,92.7 L687.5,92.8 L689.0,92.9 L690.5,93.0 L692.0,93.1 L693.5,93.3 L694.9,93.5 L696.4,93.7 L697.9,93.8 L699.4,94.0 L700.9,94.2 L702.4,94.4 L703.9,94.5 L705.4,94.7 L706.9,94.8 L708.4,95.0 L709.9,95.1 L711.4,95.2 L712.8,95.3 L714.3,95.4 L715.8,95.5 L717.3,95.6 L718.8,95.7 L720.3,95.8 L721.8,95.9 L723.3,95.9 L724.8,96.0 L726.3,96.0 L727.8,96.0 L729.3,95.9 L730.8,95.9 L732.3,95.8 L733.8,95.7 L735.3,95.5 L736.8,95.3 L738.3,95.1 L739.7,94.8 L741.2,94.5 L742.7,94.2 L744.1,93.8 L745.6,93.5 L747.1,93.1 L748.5,92.8 L750.0,92.4 L751.4,92.1 L752.9,91.7 L754.3,91.3 L755.8,91.0 L757.3,90.7" fill="none" stroke="#fff" stroke-width="2.9" stroke-linecap="butt" stroke-linejoin="round"/><path d="M571.4,122.9L572.0,119.2M575.1,121.4L575.7,117.7M578.8,119.9L579.4,116.2M582.5,118.4L583.1,114.6M586.2,116.8L586.8,113.1M589.9,115.3L590.5,111.6M593.6,113.7L594.1,110.0M597.2,112.1L597.8,108.4M600.9,110.5L601.5,106.8M604.5,109.0L605.2,105.3M608.2,107.6L609.1,103.9M612.0,106.3L612.9,102.6M615.8,105.1L616.7,101.5M619.6,104.0L620.6,100.3M623.4,102.8L624.4,99.2M627.3,101.7L628.2,98.0M631.1,100.5L632.1,96.9M634.9,99.4L636.0,95.8M638.7,98.5L639.9,94.9M642.6,97.6L643.9,94.0M646.5,96.7L647.8,93.2M650.3,96.0L651.8,92.5M654.2,95.4L655.8,92.0M658.1,94.9L659.9,91.6M662.1,94.6L663.9,91.3M666.1,94.4L667.9,91.1M670.0,94.2L671.9,91.0M674.0,94.1L676.0,90.9M678.0,94.1L680.0,90.9M681.9,94.1L684.0,91.0M685.9,94.3L688.1,91.2M689.8,94.5L692.1,91.5M693.8,94.9L696.1,92.0M697.7,95.4L700.1,92.5M701.7,95.9L704.1,93.0M705.7,96.3L708.0,93.3M709.7,96.6L712.0,93.6M713.7,96.9L716.0,93.9M717.7,97.2L719.9,94.1M721.8,97.5L723.9,94.3M725.8,97.6L727.8,94.4M729.9,97.5L731.7,94.2M734.0,97.3L735.6,93.9M738.1,96.7L739.5,93.2M742.0,96.0L743.3,92.4M746.0,95.1L747.2,91.5M749.9,94.1L751.0,90.5" fill="none" stroke="#111" stroke-width="1.25"/>
<g><path d="M563.4,115.6 L566,120" fill="none" stroke="#111" stroke-width="4.4" stroke-linecap="round"/><path d="M563.4,115.6 L566,120" fill="none" stroke="#fff" stroke-width="2.2" stroke-linecap="round"/><path d="M563.4,115.6 L566,120" fill="none" stroke="#111" stroke-width="2.2" stroke-dasharray="1 1.8"/><ellipse cx="569.6" cy="124.6" rx="7.2" ry="5.2" transform="rotate(10 569.6 124.6)" fill="#fff" stroke="#111" stroke-width="1.25"/><ellipse cx="565.2" cy="122.6" rx="2.4" ry="1.7" transform="rotate(-30 565.2 122.6)" fill="#fff" stroke="#111" stroke-width="1.25"/><ellipse cx="569.4" cy="120.8" rx="2.4" ry="1.7" transform="rotate(-30 569.4 120.8)" fill="#fff" stroke="#111" stroke-width="1.25"/><ellipse cx="573.4" cy="122.4" rx="2.4" ry="1.7" transform="rotate(-30 573.4 122.4)" fill="#fff" stroke="#111" stroke-width="1.25"/><ellipse cx="566.4" cy="126.6" rx="2.4" ry="1.7" transform="rotate(-30 566.4 126.6)" fill="#fff" stroke="#111" stroke-width="1.25"/><ellipse cx="570.6" cy="125.2" rx="2.4" ry="1.7" transform="rotate(-30 570.6 125.2)" fill="#fff" stroke="#111" stroke-width="1.25"/><ellipse cx="574.4" cy="126.4" rx="2.2" ry="1.6" transform="rotate(-30 574.4 126.4)" fill="#fff" stroke="#111" stroke-width="1.25"/><ellipse cx="569.6" cy="128.6" rx="2.2" ry="1.5" transform="rotate(-30 569.6 128.6)" fill="#fff" stroke="#111" stroke-width="1.25"/></g>
<g><path d="M783.6,124.6 L782.6,128.6" fill="none" stroke="#111" stroke-width="4.4" stroke-linecap="round"/><path d="M783.6,124.6 L782.6,128.6" fill="none" stroke="#fff" stroke-width="2.2" stroke-linecap="round"/><path d="M783.6,124.6 L782.6,128.6" fill="none" stroke="#111" stroke-width="2.2" stroke-dasharray="1 1.8"/><ellipse cx="788.4" cy="119.2" rx="6.8" ry="6.6" transform="rotate(0 788.4 119.2)" fill="#fff" stroke="#111" stroke-width="1.25"/><ellipse cx="785" cy="115.2" rx="2.4" ry="1.7" transform="rotate(-30 785 115.2)" fill="#fff" stroke="#111" stroke-width="1.25"/><ellipse cx="789.6" cy="114.6" rx="2.4" ry="1.7" transform="rotate(-30 789.6 114.6)" fill="#fff" stroke="#111" stroke-width="1.25"/><ellipse cx="792.6" cy="118" rx="2.4" ry="1.7" transform="rotate(-30 792.6 118)" fill="#fff" stroke="#111" stroke-width="1.25"/><ellipse cx="784.6" cy="119.8" rx="2.4" ry="1.7" transform="rotate(-30 784.6 119.8)" fill="#fff" stroke="#111" stroke-width="1.25"/><ellipse cx="788.8" cy="119.4" rx="2.4" ry="1.7" transform="rotate(-30 788.8 119.4)" fill="#fff" stroke="#111" stroke-width="1.25"/><ellipse cx="786.6" cy="123.6" rx="2.4" ry="1.7" transform="rotate(-30 786.6 123.6)" fill="#fff" stroke="#111" stroke-width="1.25"/><ellipse cx="791" cy="123.2" rx="2.4" ry="1.7" transform="rotate(-30 791 123.2)" fill="#fff" stroke="#111" stroke-width="1.25"/></g>
</g>
<!-- 12 -->
<g id="o12">
<path class="f" d="M281.800,314 L298.500,324.300 L292.300,338 L272.600,327.400 Z"/>
<path class="f" d="M235.700,289 L241.500,287.400 L277,309.400 L281,311.400 L281.800,314 L275.900,314.800 L271.900,325.500 L270.800,327.400 L269.600,327.900 L230.800,304.800 L230,296.500 Z"/>
<path class="l" d="M230,296.500 L233.400,298.600 L235.700,289 M233.400,298.600 L270.800,314.700 L275.900,314.800 L281,311.400 M237.600,291.600 L277,312 M233.400,298.600 L233,304.400 M270.800,314.700 L268.500,322.700 L271.900,325.500 M268.500,322.700 L233.800,303"/>
<path class="l" d="M232.400,304 L270,326.200" style="stroke-width:2.2"/>
<ellipse class="f" cx="300.200" cy="332.800" rx="6.800" ry="8.800" transform="rotate(-24 300.200 332.800)" style="stroke-width:1.5"/>
<ellipse cx="301.400" cy="333.600" rx="4.400" ry="6" transform="rotate(-24 301.400 333.600)" fill="#fff" stroke="#111" stroke-width="1.9"/>
<path class="l" d="M298.800,331 L304.200,336.400 M303.800,330.800 L299.200,336.800" style="stroke-width:1.5"/>
<path class="l" d="M294.600,326 Q292.200,331 294,337.400"/>
</g>
<!-- 14 -->
<g id="o14">
<path d="M235.6,343.6 L304.4,380.2 L330.4,366.6 L333.3,373.1 L303.9,389.3 L233.5,350.5 Z" fill="#fff" stroke="#111" stroke-width="1" stroke-linejoin="round"/>
<path d="M235.6,343.7 L304.4,380.4 L330.5,366.7 L331.3,368.6 L304.3,383.0 L235.0,345.7 Z" fill="#141414" stroke="#141414" stroke-width=".8" stroke-linejoin="round"/>
<path d="M234.5,347.2 L304.1,384.9 L331.9,370.0 L333.2,373.0 L303.9,389.1 L233.5,350.4 Z" fill="#777" stroke="#222" stroke-width="1" stroke-linejoin="round"/>
</g>
<!--/O3-->
<!--OBJECTS-->
</svg>
</body></html>
